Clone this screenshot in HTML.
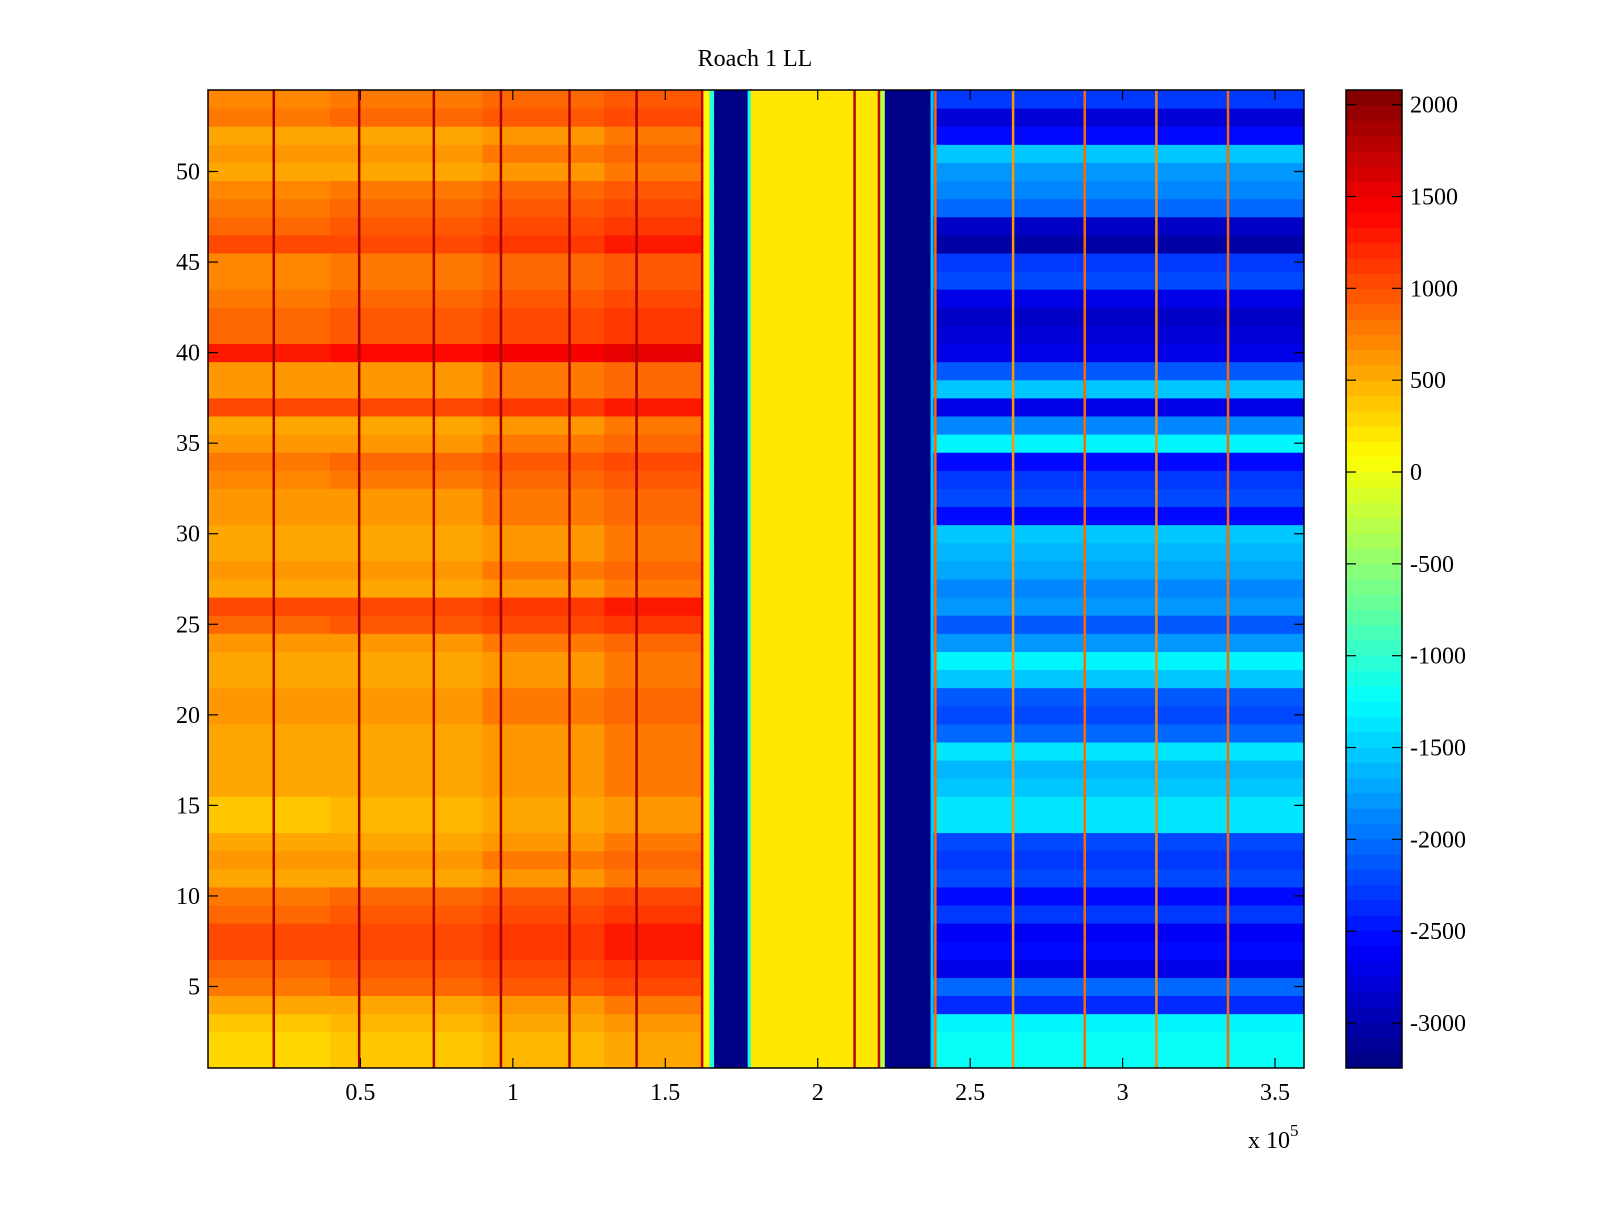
<!DOCTYPE html>
<html><head><meta charset="utf-8"><style>
html,body{margin:0;padding:0;background:#fff;}
svg text{font-family:"Liberation Serif",serif;fill:#000;}
</style></head><body>
<svg id="chart" width="1600" height="1200" viewBox="0 0 1600 1200" xmlns="http://www.w3.org/2000/svg">
<rect x="0" y="0" width="1600" height="1200" fill="#fff"/>
<text x="755" y="66" font-size="24" text-anchor="middle">Roach 1 LL</text>
<g id="cells"></g>
<g id="cbar"></g>
<g id="axes"></g>
</svg>
<script>
// Row offsets (rows 1..54) for warm (left) region
const warmRows = [300,300,400,500,800,900,1000,1000,900,800,500,600,500,400,400,500,500,500,500,600,600,500,500,600,900,1000,500,600,500,500,600,600,700,800,600,500,1000,600,600,1300,900,900,800,700,700,1000,900,800,700,500,600,500,800,700];
// Row values (rows 1..54) for cool (right) region
const coolRows = [-1200,-1200,-1300,-2400,-2000,-2700,-2500,-2600,-2300,-2500,-2200,-2300,-2200,-1400,-1400,-1500,-1600,-1400,-2000,-2200,-2100,-1500,-1300,-1800,-2100,-1800,-1900,-1700,-1600,-1500,-2500,-2200,-2300,-2500,-1300,-1900,-2700,-1500,-2100,-2700,-2800,-2900,-2700,-2200,-2300,-3000,-2900,-2000,-1900,-1800,-1500,-2500,-2800,-2300];
// Column segments: start, end (x in 1e5 units), kind, value
const segStart = [0,0.4,0.9,1.3,1.62,1.645,1.66,1.77,1.78,2.2,2.22,2.37,2.38];
const segEnd   = [0.4,0.9,1.3,1.62,1.645,1.66,1.77,1.78,2.2,2.22,2.37,2.38,3.6];
const segKind  = ['warm','warm','warm','warm','flat','flat','flat','flat','flat','flat','flat','flat','cool'];
const segValue = [0,50,150,250,100,-1000,-3200,-1200,200,-300,-3200,-1500,0];
// Vertical line features
const lineX   = [0.215,0.495,0.74,0.96,1.185,1.405,1.62,2.12,2.2,2.385,2.64,2.875,3.11,3.345];
const lineVal = [1900,1900,1900,1900,1900,1900,1700,1800,1700,900,600,900,700,900];
const xTicks = [0.5,1,1.5,2,2.5,3,3.5];
const xTickLabels = ['0.5','1','1.5','2','2.5','3','3.5'];
const yTicks = [5,10,15,20,25,30,35,40,45,50];
const cTicks = [2000,1500,1000,500,0,-500,-1000,-1500,-2000,-2500,-3000];
const cMin = -3245, cMax = 2080;

const L=208, R=1304, T=90, B=1068;
const xMin=0, xMax=3.595;
const sx = v => L + (v - xMin) / (xMax - xMin) * (R - L);
const sy = v => B - (v - 0.5) / 54 * (B - T);
const CL=1346, CR=1402;
const sc = v => B - (v - cMin) / (cMax - cMin) * (B - T);
const NS='http://www.w3.org/2000/svg';

function jet(t){
  t = Math.max(0, Math.min(1, t));
  t = (Math.floor(t * 64) + 0.5) / 64; if (t > 1) t = 1;
  const r = Math.max(0, Math.min(1, 1.5 - Math.abs(4*t - 3)));
  const g = Math.max(0, Math.min(1, 1.5 - Math.abs(4*t - 2)));
  const b = Math.max(0, Math.min(1, 1.5 - Math.abs(4*t - 1)));
  return 'rgb(' + Math.round(r*255) + ',' + Math.round(g*255) + ',' + Math.round(b*255) + ')';
}
const col = v => jet((v - cMin) / (cMax - cMin));

const cells = document.getElementById('cells');
for (let s = 0; s < segStart.length; s++) {
  for (let r = 0; r < 54; r++) {
    let v = segValue[s];
    if (segKind[s] === 'warm') v = warmRows[r] + segValue[s];
    else if (segKind[s] === 'cool') v = coolRows[r] + segValue[s];
    const rc = document.createElementNS(NS, 'rect');
    const x0 = sx(segStart[s]), x1 = sx(Math.min(segEnd[s], xMax));
    rc.setAttribute('x', x0); rc.setAttribute('width', Math.max(0, x1 - x0) + 0.5);
    rc.setAttribute('y', sy(r + 1.5)); rc.setAttribute('height', sy(r + 0.5) - sy(r + 1.5) + 0.5);
    rc.setAttribute('fill', col(v));
    
    
    cells.appendChild(rc);
  }
}
for (let i = 0; i < lineX.length; i++) {
  const rc = document.createElementNS(NS, 'rect');
  rc.setAttribute('x', sx(lineX[i]) - 1); rc.setAttribute('width', 2.5);
  rc.setAttribute('y', T); rc.setAttribute('height', B - T);
  rc.setAttribute('fill', col(lineVal[i]));
  
  
  cells.appendChild(rc);
}

const cbar = document.getElementById('cbar');
for (let k = 0; k < 64; k++) {
  const v0 = cMin + (cMax - cMin) * k / 64, v1 = cMin + (cMax - cMin) * (k + 1) / 64;
  const rc = document.createElementNS(NS, 'rect');
  rc.setAttribute('x', CL); rc.setAttribute('width', CR - CL);
  rc.setAttribute('y', sc(v1)); rc.setAttribute('height', sc(v0) - sc(v1) + 0.5);
  rc.setAttribute('fill', col((v0 + v1) / 2));
  
  
  cbar.appendChild(rc);
}
const cf = document.createElementNS(NS, 'rect');
cf.setAttribute('x', CL); cf.setAttribute('y', T); cf.setAttribute('width', CR - CL); cf.setAttribute('height', B - T);
cf.setAttribute('fill', 'none'); cf.setAttribute('stroke', '#000'); cf.setAttribute('stroke-width', '1.5');


cbar.appendChild(cf);
cTicks.forEach(v => {
  const y = sc(v);
  [[CL, CL + 10], [CR - 10, CR]].forEach(p => {
    const l = document.createElementNS(NS, 'line');
    l.setAttribute('x1', p[0]); l.setAttribute('x2', p[1]); l.setAttribute('y1', y); l.setAttribute('y2', y);
    l.setAttribute('stroke', '#000'); l.setAttribute('stroke-width', '1.2');
    
    
    cbar.appendChild(l);
  });
  const t = document.createElementNS(NS, 'text');
  t.setAttribute('x', CR + 8); t.setAttribute('y', y + 8); t.setAttribute('font-size', '24');
  t.textContent = String(v);
  
  
  cbar.appendChild(t);
});

const axes = document.getElementById('axes');
const fr = document.createElementNS(NS, 'rect');
fr.setAttribute('x', L); fr.setAttribute('y', T); fr.setAttribute('width', R - L); fr.setAttribute('height', B - T);
fr.setAttribute('fill', 'none'); fr.setAttribute('stroke', '#000'); fr.setAttribute('stroke-width', '1.5');


axes.appendChild(fr);
xTicks.forEach((v, i) => {
  const x = sx(v);
  [[B, B - 10], [T, T + 10]].forEach(p => {
    const l = document.createElementNS(NS, 'line');
    l.setAttribute('x1', x); l.setAttribute('x2', x); l.setAttribute('y1', p[0]); l.setAttribute('y2', p[1]);
    l.setAttribute('stroke', '#000'); l.setAttribute('stroke-width', '1.2');
    
    
    axes.appendChild(l);
  });
  const t = document.createElementNS(NS, 'text');
  t.setAttribute('x', x); t.setAttribute('y', B + 32); t.setAttribute('font-size', '24'); t.setAttribute('text-anchor', 'middle');
  t.textContent = xTickLabels[i];
  
  
  axes.appendChild(t);
});
yTicks.forEach(v => {
  const y = sy(v);
  [[L, L + 10], [R - 10, R]].forEach(p => {
    const l = document.createElementNS(NS, 'line');
    l.setAttribute('x1', p[0]); l.setAttribute('x2', p[1]); l.setAttribute('y1', y); l.setAttribute('y2', y);
    l.setAttribute('stroke', '#000'); l.setAttribute('stroke-width', '1.2');
    
    
    axes.appendChild(l);
  });
  const t = document.createElementNS(NS, 'text');
  t.setAttribute('x', L - 8); t.setAttribute('y', y + 8); t.setAttribute('font-size', '24'); t.setAttribute('text-anchor', 'end');
  t.textContent = String(v);
  
  
  axes.appendChild(t);
});
const ex = document.createElementNS(NS, 'text');
ex.setAttribute('x', 1248); ex.setAttribute('y', 1148); ex.setAttribute('font-size', '24');
ex.innerHTML = 'x 10<tspan dy="-12" font-size="17">5</tspan>';


axes.appendChild(ex);
</script>
</body></html>
